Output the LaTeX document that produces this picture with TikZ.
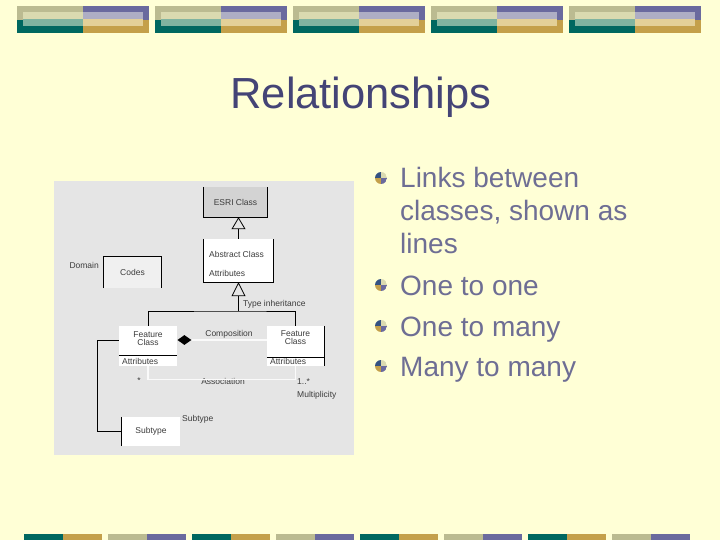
\documentclass[tikz,border=0pt]{standalone}
\usepackage{fontspec}
\setmainfont{Liberation Sans}
\usetikzlibrary{arrows.meta,shapes.geometric}

\definecolor{slidebg}{RGB}{255,255,214}
\definecolor{barolive}{RGB}{187,187,145}
\definecolor{barolivelt}{RGB}{218,218,176}
\definecolor{barpurple}{RGB}{106,106,158}
\definecolor{barpurplelt}{RGB}{174,174,196}
\definecolor{barteal}{RGB}{0,104,96}
\definecolor{bartealt}{RGB}{128,180,160}
\definecolor{bargold}{RGB}{196,160,74}
\definecolor{bargoldlt}{RGB}{227,208,152}
\definecolor{titlecol}{RGB}{68,68,118}
\definecolor{bodycol}{RGB}{110,110,148}
\definecolor{dotblue}{RGB}{52,82,130}
\definecolor{diagbg}{RGB}{229,229,229}
\definecolor{esrigray}{RGB}{211,211,211}
\definecolor{domfill}{RGB}{240,240,240}
\definecolor{diagtext}{RGB}{60,60,60}

\begin{document}
\begin{tikzpicture}[x=1pt,y=-1pt,
	box/.style={rectangle,inner sep=0pt},
	lbl/.style={font=\fontsize{8.5}{8}\selectfont,text=diagtext,inner sep=0pt},
	link/.style={line width=0.8pt},
	faint/.style={draw=white!80!diagbg,line width=1.2pt}]
	\fill[slidebg] (0,0) rectangle (720,540);
	\useasboundingbox (0,0) rectangle (720,540);
	
	% banner on top
	\foreach \bx in {17,155,293,431,569} {
		\fill[barolive] (\bx,6) rectangle (\bx+66,20);
		\fill[barteal] (\bx,20) rectangle (\bx+66,33);
		\fill[barpurple] (\bx+66,6) rectangle (\bx+132,20);
		\fill[bargold] (\bx+66,20) rectangle (\bx+132,33);
		\fill[barolivelt] (\bx+6,12) rectangle (\bx+66,19);
		\fill[bartealt] (\bx+6,19) rectangle (\bx+66,26);
		\fill[barpurplelt] (\bx+66,12) rectangle (\bx+126,19);
		\fill[bargoldlt] (\bx+66,19) rectangle (\bx+126,26);
	}
	
	% bars at the bottom
	\foreach \bx in {24,192,360,528} {
		\fill[barteal] (\bx,534) rectangle (\bx+39,540);
		\fill[bargold] (\bx+39,534) rectangle (\bx+78,540);
		\fill[barolive] (\bx+84,534) rectangle (\bx+123,540);
		\fill[barpurple] (\bx+123,534) rectangle (\bx+162,540);
	}
	
	\node[font=\fontsize{43.5}{50}\selectfont,text=titlecol,anchor=base,inner sep=0pt] (title) at (361,109) {Relationships};
	
	% bullet list
	\foreach \by in {178,285,326,366} {
		\begin{scope}
			\clip (381,\by) circle[radius=6];
			\fill[dotblue] (375,\by-6) rectangle (381,\by);
			\fill[barolivelt] (381,\by-6) rectangle (387,\by);
			\fill[bargold] (375,\by) rectangle (381,\by+6);
			\fill[barpurple] (381,\by) rectangle (387,\by+6);
		\end{scope}
	}
	\begin{scope}[every node/.style={anchor=base west,inner sep=0pt,text=bodycol,
		font=\fontsize{28}{33}\selectfont}]
	\node (linksa) at (400,188) {Links between};
	\node (linksb) at (400,221) {classes, shown as};
	\node (linksc) at (400,254) {lines};
	\node (oneone) at (400,295) {One to one};
	\node (onemany) at (400,336) {One to many};
	\node (manymany) at (400,376) {Many to many};
	\end{scope}
	
	% class diagram
	\fill[diagbg] (54,181) rectangle (354,455);
	\begin{scope}[every node/.style={lbl}]
	\node[box,fill=esrigray,minimum width=63pt,minimum height=30pt] (esri) at (235.5,202) {ESRI Class};
	\node[box,fill=white,minimum width=69pt,minimum height=43pt] (abs) at (238.5,260.5) {};
	\node[anchor=west] (abstitle) at (209,254) {Abstract Class};
	\node[anchor=west] (absattr) at (209,273) {Attributes};
	\node[box,fill=domfill,minimum width=57pt,minimum height=31pt] (dom) at (132.5,272.5) {Codes};
	\node[anchor=east] (domlbl) at (99,265) {Domain};
	\node[box,fill=white,minimum width=58pt,minimum height=40pt] (fcl) at (148,346) {};
	\node[align=center] (fcltxt) at (148,339) {Feature\\Class};
	\node[anchor=west] (fclattr) at (122,361) {Attributes};
	\node[box,fill=white,minimum width=57pt,minimum height=40pt] (fcr) at (295.5,346) {};
	\node[align=center] (fcrtxt) at (295.5,338) {Feature\\Class};
	\node[anchor=west] (fcrattr) at (270,361) {Attributes};
	\node[box,fill=white,minimum width=58pt,minimum height=29pt] (sub) at (151,431.5) {Subtype};
	\node[anchor=west] (sublbl) at (182,419) {Subtype};
	\node[diamond,fill=black,minimum width=14pt,minimum height=10pt,anchor=west] (comp) at (fcl.east |- 0,340) {};
	\node (complbl) at (229,334) {Composition};
	\node[anchor=west] (inhlbl) at (243,304) {Type inheritance};
	\node (mstar) at (139,381) {*};
	\node (assoc) at (223,381) {Association};
	\node[anchor=west] (mone) at (297,382) {1..*};
	\node[anchor=west] (mult) at (297,395) {Multiplicity};
	\end{scope}
	\coordinate (jn) at (abs.south |- 0,311);
	
	\draw[link] (esri.north west) |- (esri.south east) -- (esri.north east);
	\draw[link] (abs.north west) |- (abs.south east) -- (abs.north east);
	\draw[link] (dom.south west) |- (dom.north east) -- (dom.south east);
	\draw[link] (fcl.west |- 0,355) -- (fcl.east |- 0,355);
	\draw[link] (fcr.west |- 0,357) -- (fcr.east |- 0,357);
	\draw[link] (fcr.north east) -- (fcr.south east);
	\draw[link] (sub.north west) -- (sub.south west);
	
	\draw[link,-{Triangle[open,width=14pt,length=12pt]}] (abs.north -| jn) -- (esri.south -| jn);
	\draw[line width=1.8pt,-{Triangle[open,width=14pt,length=14pt,line width=0.8pt]}] (jn) -- (abs.south -| jn);
	\draw[link] (fcl.north) |- (jn) -| (fcr.north);
	\draw[faint] (comp.east) -- (comp.east -| fcr.west);
	\draw[faint] (fcl.south) -- ++(0,13) -| (fcr.south);
	\draw[link] (fcl.west |- comp.center) -- ++(-21,0) |- (sub.west);
\end{tikzpicture}
\end{document}
